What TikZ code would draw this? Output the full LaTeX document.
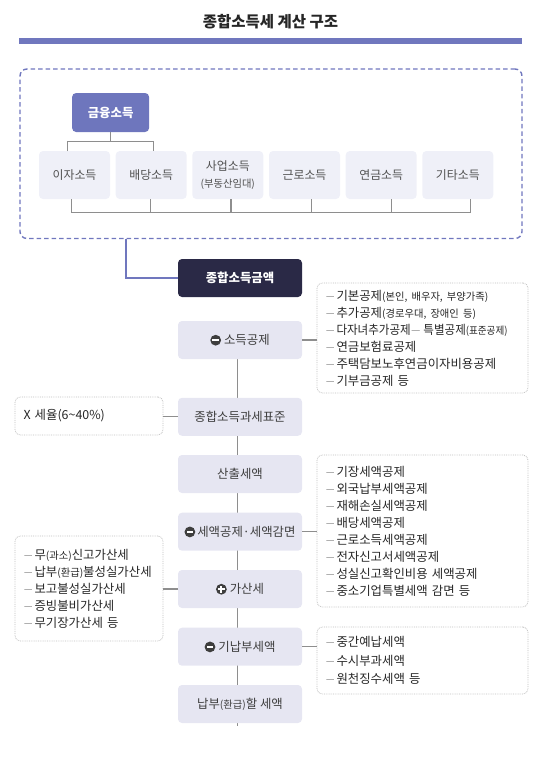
\documentclass[tikz,border=0pt]{standalone}
\usepackage{fontspec}
\usepackage{graphicx}
\setmainfont{Noto Sans CJK KR}
\usetikzlibrary{calc,backgrounds}
\definecolor{accent}{HTML}{7077BE}
\definecolor{finfill}{HTML}{6E76BD}
\definecolor{incfill}{HTML}{EFF0F8}
\definecolor{flowfill}{HTML}{E6E6F2}
\definecolor{darkfill}{HTML}{2A2946}
\definecolor{txtgray}{HTML}{3E3E3E}
\definecolor{listtxt}{HTML}{262626}
\definecolor{linegray}{HTML}{8E8E8E}
\definecolor{dotgray}{HTML}{BDBDBD}
\definecolor{dashgray}{HTML}{9A9A9A}
\newcommand\smtxt[1]{{\fontsize{10.3}{11}\selectfont #1}}
\newcommand\dsh{\makebox[11pt][l]{\textcolor{dashgray}{\scalebox{1.4}[1]{–}}}}
\newcommand\middsh{\textcolor{dashgray}{\scalebox{1.6}[1]{–}}\hspace{3pt}}
\newcommand\minusicon{\tikz[baseline=-4.4pt]{\fill[txtgray,sharp corners,draw=none] (0pt,0pt) circle (5.4pt); \fill[white,sharp corners,draw=none] (-3.3pt,-1.05pt) rectangle (3.3pt,1.05pt);}}
\newcommand\plusicon{\tikz[baseline=-4.4pt]{\fill[txtgray,sharp corners,draw=none] (0pt,0pt) circle (5.4pt); \fill[white,sharp corners,draw=none] (-3.3pt,-1.05pt) rectangle (3.3pt,1.05pt); \fill[white,sharp corners,draw=none] (-1.05pt,-3.3pt) rectangle (1.05pt,3.3pt);}}
\begin{document}
\begin{tikzpicture}[x=1pt,y=-1pt,
  every node/.style={inner sep=0pt, outer sep=0pt},
  incbox/.style={fill=incfill, rounded corners=4pt, minimum width=71pt, minimum height=48pt, text=txtgray!90, font=\fontsize{11.9}{17}\selectfont, align=center},
  finbox/.style={fill=finfill, rounded corners=4pt, minimum width=77pt, minimum height=39pt, text=white, font=\bfseries\fontsize{12.4}{14}\selectfont},
  darkbox/.style={fill=darkfill, rounded corners=4pt, minimum width=124pt, minimum height=38pt, text=white, font=\bfseries\fontsize{12.4}{14}\selectfont},
  flowbox/.style={fill=flowfill, rounded corners=4pt, minimum width=124pt, minimum height=38pt, text=txtgray, font=\fontsize{12.4}{14}\selectfont},
  listbox/.style={draw=dotgray, densely dotted, line width=0.8pt, rounded corners=5pt, anchor=north west, text=listtxt, align=left, inner xsep=8.5pt, font=\fontsize{12.4}{17}\selectfont},
  conn/.style={draw=linegray, line width=1.2pt},
  accconn/.style={draw=accent, line width=1.4pt}
]
\useasboundingbox (0,0) rectangle (547,758);

% title and bar
\node[font=\bfseries\fontsize{15.5}{18}\selectfont, text=black!85] (title) at (270.5,22) {종합소득세 계산 구조};
\fill[accent] (19,38) rectangle (522,43.5);

% outer dashed box
\node[draw=accent, line width=1.4pt, dash pattern=on 4.5pt off 3pt, rounded corners=7pt, minimum width=502pt, minimum height=169.5pt, anchor=north west] (outer) at (20,69) {};

% income boxes
\node[finbox] (fin) at (110.6,112.5) {금융소득};
\node[incbox] (b1) at (74.5,175) {이자소득};
\node[incbox] (b2) at (151.2,175) {배당소득};
\node[incbox] (b3) at (227.8,175) {사업소득\\\smtxt{(부동산임대)}};
\node[incbox] (b4) at (304.5,175) {근로소득};
\node[incbox] (b5) at (381.2,175) {연금소득};
\node[incbox] (b6) at (457.8,175) {기타소득};

\draw[conn] (fin.south) -- ++(0,9.5);
\draw[conn] ($(b1.north)+(-6.8,0)$) -- ++(0,-9.3) -| ($(b2.north)+(2.1,0)$);
\draw[conn] ($(b1.south)+(-2.8,0)$) -- ++(0,13.3) -| ($(b6.south)+(12.9,0)$);
\draw[conn] ($(b2.south)+(-0.5,0)$) -- ++(0,13.3);
\draw[conn] ($(b3.south)+(3.2,0)$) -- ++(0,13.3);
\draw[conn] ($(b4.south)+(6.8,0)$) -- ++(0,13.3);
\draw[conn] ($(b5.south)+(10.5,0)$) -- ++(0,13.3);

% flow
\node[darkbox] (total) at (240,278) {종합소득금액};
\node[flowbox] (ded) at (240,340) {\minusicon\hspace{3pt}소득공제};
\node[flowbox] (base) at (240,416.8) {종합소득과세표준};
\node[flowbox] (calc) at (240,474) {산출세액};
\node[flowbox] (cred) at (240,531.7) {\minusicon\hspace{2pt}세액공제·세액감면};
\node[flowbox] (add) at (240,589) {\plusicon\hspace{3pt}가산세};
\node[flowbox] (prep) at (240,646.7) {\minusicon\hspace{3pt}기납부세액};
\node[flowbox] (pay) at (240,704) {납부\smtxt{(환급)}할 세액};

\draw[accconn] ($(outer.south west)+(106,0)$) |- (total.west);

\begin{scope}[on background layer]
\draw[conn] ($(ded.south)+(-2.3,0)$) -- ($(pay.south)+(-2.3,2.5)$);
\end{scope}

% side lists
\node[listbox, minimum width=211pt, minimum height=110pt, text width=194pt] (r1) at (317,283) {%
\dsh 기본공제\smtxt{(본인, 배우자, 부양가족)}\\
\dsh 추가공제\smtxt{(경로우대, 장애인 등)}\\
\mbox{\dsh\scalebox{0.93}[1]{다자녀추가공제\middsh 특별공제\smtxt{(표준공제)}}}\\
\dsh 연금보험료공제\\
\dsh 주택담보노후연금이자비용공제\\
\dsh 기부금공제 등};

\node[listbox, minimum width=211pt, minimum height=152pt, text width=194pt] (r2) at (317,455) {%
\dsh 기장세액공제\\
\dsh 외국납부세액공제\\
\dsh 재해손실세액공제\\
\dsh 배당세액공제\\
\dsh 근로소득세액공제\\
\dsh 전자신고서세액공제\\
\dsh 성실신고확인비용 세액공제\\
\dsh 중소기업특별세액 감면 등};

\node[listbox, minimum width=211pt, minimum height=67pt, text width=194pt, font=\fontsize{12.4}{18.3}\selectfont] (r3) at (317,627) {%
\dsh 중간예납세액\\
\dsh 수시부과세액\\
\dsh 원천징수세액 등};

\node[listbox, minimum width=148pt, minimum height=38pt, text width=131pt] (l1) at (15,397) {X 세율(6\textasciitilde 40\%)};

\node[listbox, minimum width=148pt, minimum height=105pt, text width=131pt] (l2) at (15,536) {%
\dsh 무\smtxt{(과소)}신고가산세\\
\dsh 납부\smtxt{(환급)}불성실가산세\\
\dsh 보고불성실가산세\\
\dsh 증빙불비가산세\\
\dsh 무기장가산세 등};

\draw[conn] (ded.east) -- (ded.east -| r1.west);
\draw[conn] (cred.east) -- (cred.east -| r2.west);
\draw[conn] (prep.east) -- (prep.east -| r3.west);
\draw[conn] (base.west) -- (base.west -| l1.east);
\draw[conn] (add.west) -- (add.west -| l2.east);
\end{tikzpicture}
\end{document}
